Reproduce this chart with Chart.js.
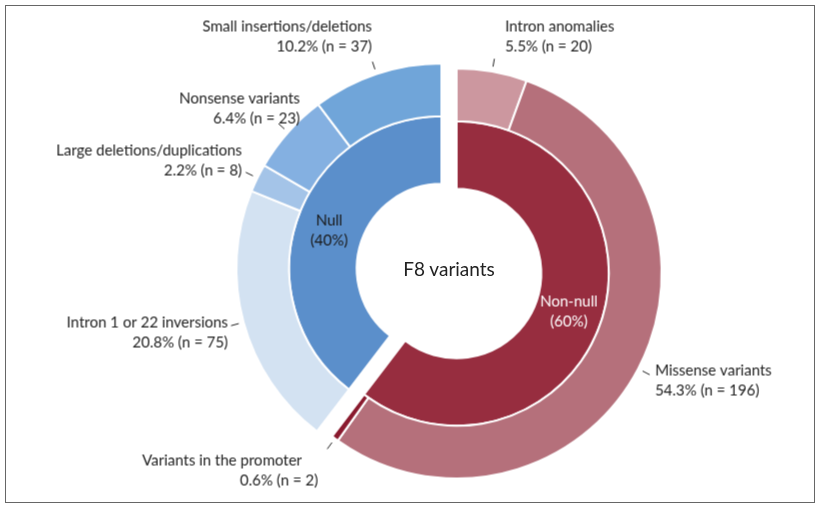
<!DOCTYPE html>
<html>
<head>
<meta charset="utf-8">
<script src="https://cdn.jsdelivr.net/npm/chart.js@4"></script>
<style>
  body { margin: 0; background: #fff; }
  #wrap { position: relative; width: 819px; height: 507px; }
  canvas { position: absolute; left: 0; top: 0; }
  #frame { position: absolute; left: 5px; top: 5px; width: 808px; height: 496px; border: 1px solid #666; }
  #centre { position: absolute; left: 369px; top: 257px; width: 160px; text-align: center;
            font: 19px Lato, sans-serif; color: #222; }
</style>
</head>
<body>
<div id="wrap">
  <div id="frame"></div>
  <canvas id="nullChart" width="819" height="507"></canvas>
  <canvas id="nonNullChart" width="819" height="507"></canvas>
  <div id="centre">F8 variants</div>
</div>
<script>
// ---- data ----
const groupLabels = ['Non-null', 'Null'];
const groupPercent = ['60%', '40%'];
const groupCounts = [218, 143];

const variantLabels = [
  'Intron anomalies',
  'Missense variants',
  'Variants in the promoter',
  'Intron 1 or 22 inversions',
  'Large deletions/duplications',
  'Nonsense variants',
  'Small insertions/deletions'
];
const variantPercent = ['5.5%', '54.3%', '0.6%', '20.8%', '2.2%', '6.4%', '10.2%'];
const variantCounts = [20, 196, 2, 75, 8, 23, 37];
const variantGroup = [0, 0, 0, 1, 1, 1, 1];

// ---- styling ----
const groupColors = ['#972d3f', '#5b8fcb'];
const groupTextColors = ['#ffffff', '#1a1a1a'];
const variantColors = ['#cc979f', '#b5707b', '#8a1a2e', '#d3e2f2', '#a4c4e8', '#84b0e1', '#70a5d9'];
// text anchor for each outer label: x, y of first line, alignment
const labelLayout = [
  { x: 505, y: 27, align: 'left' },
  { x: 655, y: 371, align: 'left' },
  { x: 318, y: 461, align: 'right' },
  { x: 228, y: 323, align: 'right' },
  { x: 242, y: 151, align: 'right' },
  { x: 300, y: 99, align: 'right' },
  { x: 372, y: 27, align: 'right' }
];
const FONT = '15px Lato, sans-serif';

const labelPlugin = {
    id: 'ringLabels',
    afterDatasetsDraw(chart, args, opts) {
        const ctx = chart.ctx;
        const g = opts.group;
        ctx.save();
        ctx.font = FONT;
        ctx.textBaseline = 'middle';
        // outer ring labels with leader lines
        chart.getDatasetMeta(0).data.forEach((arc, i) => {
            if (variantGroup[i] !== g) return;
            const p = arc.getProps(['x', 'y', 'startAngle', 'endAngle', 'outerRadius'], true);
            const mid = (p.startAngle + p.endAngle) / 2;
            ctx.strokeStyle = '#222';
            ctx.lineWidth = 1;
            ctx.beginPath();
            ctx.moveTo(p.x + Math.cos(mid) * (p.outerRadius + 5), p.y + Math.sin(mid) * (p.outerRadius + 5));
            ctx.lineTo(p.x + Math.cos(mid) * (p.outerRadius + 13), p.y + Math.sin(mid) * (p.outerRadius + 13));
            ctx.stroke();
            const l = labelLayout[i];
            ctx.fillStyle = '#222';
            ctx.textAlign = i === 2 ? 'center' : l.align;
            const x1 = i === 2 ? l.x - 96 : l.x;
            ctx.fillText(variantLabels[i], x1 - shifts[g].x, l.y - shifts[g].y);
            ctx.textAlign = l.align;
            ctx.fillText(variantPercent[i] + ' (n = ' + variantCounts[i] + ')', l.x - shifts[g].x, l.y + 20 - shifts[g].y);
        });
        // inner ring labels
        const inner = chart.getDatasetMeta(1).data[g];
        const c = inner.tooltipPosition(true);
        ctx.fillStyle = groupTextColors[g];
        ctx.textAlign = 'center';
        ctx.fillText(groupLabels[g], c.x, c.y - 10);
        ctx.fillText('(' + groupPercent[g] + ')', c.x, c.y + 10);
        ctx.restore();
    }
};

// each half is drawn on its own canvas and nudged apart
const shifts = [{ x: 7.6, y: 2.5 }, { x: -7.6, y: -2.5 }];

function makeChart(id, g) {
    const canvas = document.getElementById(id);
    canvas.style.transform = 'translate(' + shifts[g].x + 'px,' + shifts[g].y + 'px)';
    const hide = 'rgba(0,0,0,0)';
    return new Chart(canvas.getContext('2d'), {
        type: 'doughnut',
        data: {
            labels: variantLabels,
            datasets: [{
                data: variantCounts,
                backgroundColor: variantColors.map((c, i) => variantGroup[i] === g ? c : hide),
                borderColor: variantGroup.map(v => v === g ? '#ffffff' : hide),
                borderWidth: 2,
                weight: 53
            }, {
                data: groupCounts,
                backgroundColor: groupColors.map((c, i) => i === g ? c : hide),
                borderColor: groupColors.map((c, i) => i === g ? '#ffffff' : hide),
                borderWidth: 2,
                weight: 68
            }]
        },
        options: {
            responsive: false,
            animation: false,
            cutout: '41.3%',
            layout: { padding: { left: 243, right: 164, top: 65, bottom: 30 } },
            plugins: {
                legend: { display: false },
                tooltip: { enabled: false },
                ringLabels: { group: g }
            }
        },
        plugins: [labelPlugin]
    });
}

makeChart('nullChart', 1);
makeChart('nonNullChart', 0);
</script>
</body>
</html>
